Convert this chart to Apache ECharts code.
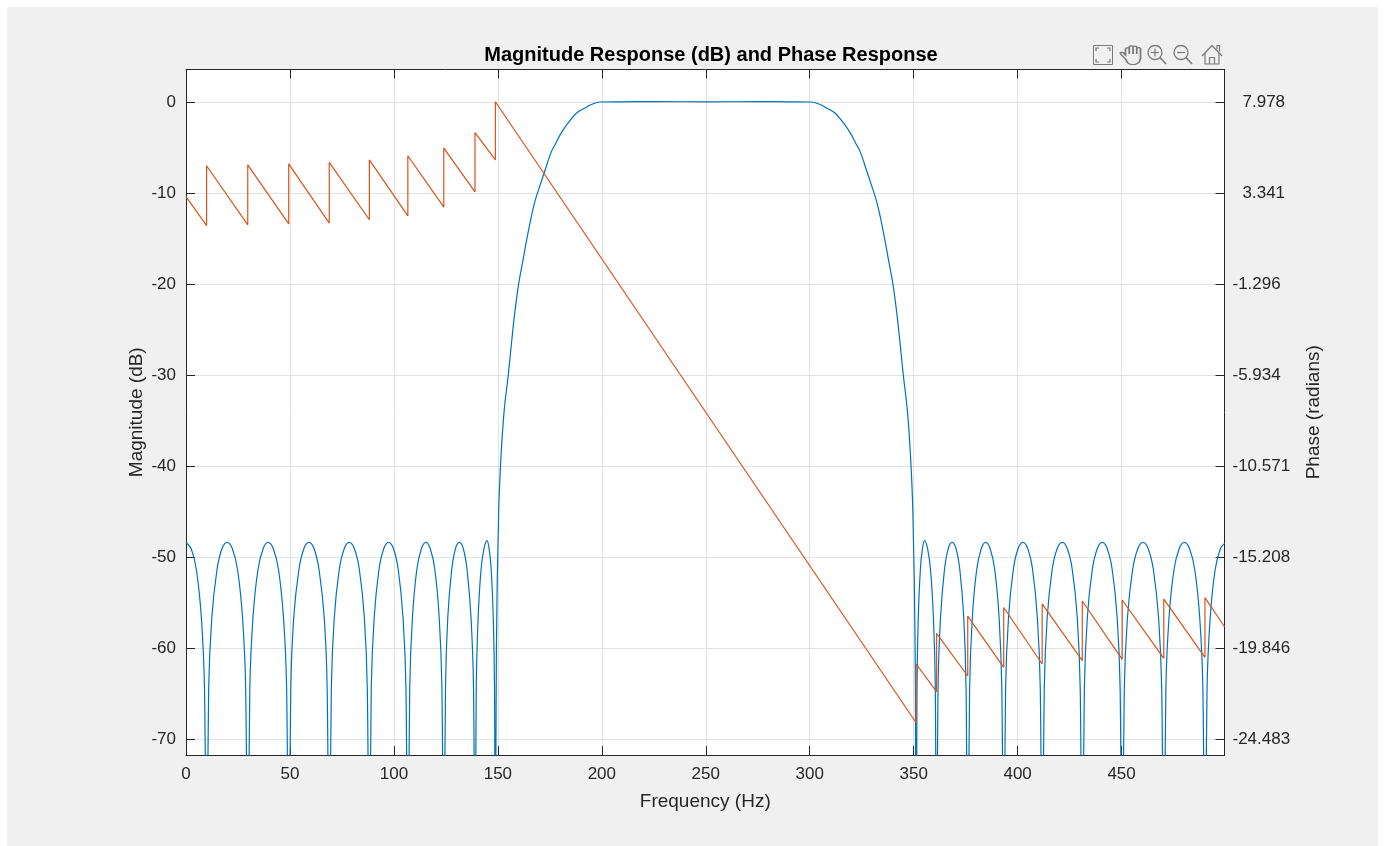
<!DOCTYPE html>
<html>
<head>
<meta charset="utf-8">
<script src="https://cdn.jsdelivr.net/npm/echarts@6/dist/echarts.min.js"></script>
<style>
html,body{margin:0;padding:0;background:#ffffff;}
#bg{position:absolute;left:7px;top:7px;width:1371px;height:839px;background:#f0f0f0;}
#chart{position:absolute;left:0;top:0;width:1385px;height:846px;}
</style>
</head>
<body>
<div id="bg"></div>
<div id="chart"></div>
<script>
// ---------- data ----------
const titleText = 'Magnitude Response (dB) and Phase Response';
const xTicks = [0, 50, 100, 150, 200, 250, 300, 350, 400, 450];
const magTicks = [-70, -60, -50, -40, -30, -20, -10, 0];
const phaseTicks = [-24.483, -19.846, -15.208, -10.571, -5.934, -1.296, 3.341, 7.978];

// Magnitude (dB) vs frequency (Hz)
const magFreq = [
  0, 2.5, 5.0, 7.4, 8.9, 9.9,
  10.9, 12.4, 14.9, 17.3, 19.8, 22.3, 24.8, 27.2, 28.7, 29.7,
  30.7, 32.2, 34.6, 37.1, 39.5, 42.0, 44.5, 46.9, 48.4, 49.4,
  50.4, 51.8, 54.3, 56.7, 59.1, 61.6, 64.0, 66.5, 67.9, 68.9,
  69.9, 71.3, 73.7, 76.1, 78.5, 81.0, 83.4, 85.8, 87.2, 88.2,
  89.1, 90.5, 92.8, 95.1, 97.4, 99.8, 102.1, 104.4, 105.8, 106.7,
  107.6, 108.9, 111.0, 113.2, 115.4, 117.5, 119.7, 121.8, 123.1, 124.0,
  124.8, 125.9, 127.8, 129.6, 131.5, 133.4, 135.2, 137.1, 138.3, 139.0,
  139.6, 140.5, 141.9, 143.3, 144.8, 145.8, 146.8, 147.8, 148.4, 148.8,
  149.3, 150.4, 151.5, 153.0, 155.0, 157.0, 158.5, 160.0, 162.0, 164.0, 166.3, 168.0,
  170.4, 173.0, 175.7, 178.0, 180.0, 183.5, 188.0, 191.7, 195.0, 199.3,
  210, 225, 250, 275, 290,
  300.7, 305.0, 308.3, 312.0, 316.5, 320.0, 322.0, 324.3, 327.0, 329.6, 332.0, 333.7,
  336.0, 338.0, 340.0, 341.5, 343.0, 345.0, 347.0, 348.5, 349.6, 350.7, 351.2,
  351.6, 352.2, 353.2, 354.2, 355.2, 356.7, 358.1, 359.5, 360.4, 361.0,
  361.7, 362.9, 364.8, 366.6, 368.5, 370.4, 372.2, 374.1, 375.2, 376.0,
  376.9, 378.2, 380.3, 382.5, 384.6, 386.8, 389.0, 391.1, 392.4, 393.3,
  394.2, 395.6, 397.9, 400.2, 402.6, 404.9, 407.2, 409.5, 410.9, 411.8,
  412.8, 414.2, 416.6, 419.0, 421.5, 423.9, 426.3, 428.7, 430.1, 431.1,
  432.1, 433.5, 435.9, 438.3, 440.7, 443.1, 445.5, 447.9, 449.3, 450.3,
  451.3, 452.8, 455.3, 457.8, 460.3, 462.8, 465.3, 467.8, 469.3, 470.3,
  471.3, 472.8, 475.2, 477.7, 480.2, 482.7, 485.2, 487.6, 489.1, 490.1,
  491.1, 492.6, 495.0, 497.5, 499.5
];
const magDb = [
  -48.4, -49.1, -51.4, -56.7, -64.5, -90,
  -64.5, -56.7, -51.4, -49.1, -48.4, -49.1, -51.4, -56.7, -64.5, -90,
  -64.5, -56.7, -51.4, -49.1, -48.4, -49.1, -51.4, -56.7, -64.5, -90,
  -64.5, -56.7, -51.4, -49.1, -48.4, -49.1, -51.4, -56.7, -64.5, -90,
  -64.5, -56.7, -51.4, -49.1, -48.4, -49.1, -51.4, -56.7, -64.5, -90,
  -64.5, -56.7, -51.4, -49.1, -48.4, -49.1, -51.4, -56.7, -64.5, -90,
  -64.5, -56.7, -51.4, -49.1, -48.4, -49.1, -51.4, -56.7, -64.5, -90,
  -64.5, -56.7, -51.4, -49.1, -48.4, -49.1, -51.4, -56.7, -64.5, -90,
  -64.5, -56.7, -51.4, -49.1, -48.2, -49.1, -51.4, -56.7, -64.5, -90,
  -60, -45, -39, -34, -30, -25.5, -22.5, -20, -17.5, -15, -12.4, -10.8,
  -9.1, -7.3, -5.5, -4.5, -3.6, -2.4, -1.2, -0.7, -0.3, -0.02,
  0, 0.02, 0, 0.02, 0,
  -0.02, -0.3, -0.7, -1.2, -2.4, -3.6, -4.5, -5.5, -7.3, -9.1, -10.8, -12.4,
  -15, -17.5, -20, -22.5, -25.5, -30, -34, -39, -45, -60, -90,
  -64.5, -56.7, -51.4, -49.1, -48.2, -49.1, -51.4, -56.7, -64.5, -90,
  -64.5, -56.7, -51.4, -49.1, -48.4, -49.1, -51.4, -56.7, -64.5, -90,
  -64.5, -56.7, -51.4, -49.1, -48.4, -49.1, -51.4, -56.7, -64.5, -90,
  -64.5, -56.7, -51.4, -49.1, -48.4, -49.1, -51.4, -56.7, -64.5, -90,
  -64.5, -56.7, -51.4, -49.1, -48.4, -49.1, -51.4, -56.7, -64.5, -90,
  -64.5, -56.7, -51.4, -49.1, -48.4, -49.1, -51.4, -56.7, -64.5, -90,
  -64.5, -56.7, -51.4, -49.1, -48.4, -49.1, -51.4, -56.7, -64.5, -90,
  -64.5, -56.7, -51.4, -49.1, -48.4, -49.1, -51.4, -56.7, -64.5, -90,
  -64.5, -56.7, -51.4, -49.1, -48.5
];

// Phase (radians) vs frequency (Hz): vertices of the wrapped linear-phase sawtooth
const phaseFreq = [
  0, 9.9, 9.9, 29.7, 29.7, 49.4, 49.4, 68.9, 68.9, 88.2, 88.2, 106.7, 106.7,
  124.0, 124.0, 139.0, 139.0, 148.8, 148.8,
  351.2, 351.2, 361.0, 361.0, 376.0, 376.0, 393.3, 393.3, 411.8, 411.8,
  431.1, 431.1, 450.3, 450.3, 470.3, 470.3, 490.1, 490.1, 499.5
];
const phaseRad = [
  3.15, 1.67, 4.72, 1.71, 4.77, 1.76, 4.82, 1.80, 4.89, 1.97, 5.02, 2.17, 5.23,
  2.61, 5.62, 3.39, 6.41, 5.02, 7.98,
  -23.65, -20.66, -22.07, -19.10, -21.27, -18.22, -20.83, -17.78, -20.66, -17.60,
  -20.49, -17.45, -20.42, -17.40, -20.37, -17.35, -20.32, -17.28, -18.76
];

// ---------- chart ----------
const magData = magFreq.map((f, i) => [f, magDb[i]]);
const phaseData = phaseFreq.map((f, i) => [f, phaseRad[i]]);

const AX = '#262626';
const GRIDC = '#e2e2e2';
const ICON = '#7a7a7a';
const FONT = 'Liberation Sans, Arial, Helvetica, sans-serif';
const TICKFS = 17;
const NAMEFS = 19;

const iconLine = {fill: 'none', stroke: ICON, lineWidth: 1.2};
const handPts = [[4,14],[1,9.5],[0.5,8],[1.5,7.3],[2.5,7.8],[4,10],[4,4],[4.5,3],[5.5,2.8],[6.5,3.5],[6.5,9],
  [6.5,1.8],[7.2,0.9],[8.2,0.8],[9,1.6],[9,9],[9,2],[9.7,1.2],[10.7,1.1],[11.5,2],[11.5,9],[11.5,3.5],
  [12.2,2.7],[13.2,2.7],[14,3.5],[14,14],[13,17.5],[10.5,19.5],[7.5,19.5],[5.5,18],[4,14]];

const chart = echarts.init(document.getElementById('chart'), null, {renderer: 'canvas'});
chart.setOption({
  backgroundColor: 'transparent',
  animation: false,
  title: {
    text: titleText,
    left: 706, top: 40, textAlign: 'center',
    textStyle: {fontFamily: FONT, fontSize: 20, fontWeight: 'bold', color: '#000'}
  },
  grid: {
    left: 186, right: 160.5, top: 69.5, bottom: 91,
    show: true, backgroundColor: '#ffffff', borderWidth: 0,
    outerBoundsMode: 'none'
  },
  xAxis: [{
    type: 'value', min: 0, max: 499.5, position: 'bottom',
    name: 'Frequency (Hz)', nameLocation: 'middle', nameGap: 37,
    nameTextStyle: {fontFamily: FONT, fontSize: NAMEFS, color: AX},
    axisLine: {show: true, onZero: false, lineStyle: {color: AX, width: 1}},
    axisTick: {show: true, inside: true, length: 9, customValues: xTicks, lineStyle: {color: AX}},
    axisLabel: {customValues: xTicks, margin: 11, fontFamily: FONT, fontSize: TICKFS, color: AX},
    splitLine: {show: true, lineStyle: {color: GRIDC, width: 1}}
  }, {
    type: 'value', min: 0, max: 499.5, position: 'top',
    axisLine: {show: true, onZero: false, lineStyle: {color: AX, width: 1}},
    axisTick: {show: true, inside: true, length: 9, customValues: xTicks, lineStyle: {color: AX}},
    axisLabel: {show: false},
    splitLine: {show: false}
  }],
  yAxis: [{
    type: 'value', min: -71.75, max: 3.55, position: 'left',
    name: 'Magnitude (dB)', nameLocation: 'middle', nameGap: 40, nameRotate: 90,
    nameMoveOverlap: false,
    nameTextStyle: {fontFamily: FONT, fontSize: NAMEFS, color: AX},
    axisLine: {show: true, onZero: false, lineStyle: {color: AX, width: 1}},
    axisTick: {show: true, inside: true, length: 9, customValues: magTicks, lineStyle: {color: AX}},
    axisLabel: {customValues: magTicks, margin: 10, fontFamily: FONT, fontSize: TICKFS, color: AX},
    splitLine: {show: true, lineStyle: {color: GRIDC, width: 1}}
  }, {
    type: 'value', min: -25.2945, max: 9.6242, position: 'right',
    name: 'Phase (radians)', nameLocation: 'middle', nameGap: 80, nameRotate: 90,
    nameTextStyle: {fontFamily: FONT, fontSize: NAMEFS, color: AX},
    axisLine: {show: true, onZero: false, lineStyle: {color: AX, width: 1}},
    axisTick: {show: true, inside: true, length: 9, customValues: phaseTicks, lineStyle: {color: AX}},
    axisLabel: {customValues: phaseTicks, margin: 8, fontFamily: FONT, fontSize: TICKFS, color: AX,
      formatter: v => (v >= 0 ? '{p|' + v.toFixed(3) + '}' : v.toFixed(3)),
      rich: {p: {padding: [0, 0, 0, 10], fontFamily: FONT, fontSize: TICKFS, color: AX}}},
    splitLine: {show: false}
  }],
  graphic: [
    {type: 'rect', shape: {x: 1093.5, y: 45.5, width: 19, height: 19}, style: {fill: 'none', stroke: ICON, lineWidth: 1}},
    {type: 'polyline', shape: {points: [[1096, 51], [1096, 48], [1099, 48]]}, style: iconLine},
    {type: 'polyline', shape: {points: [[1107, 48], [1110, 48], [1110, 51]]}, style: iconLine},
    {type: 'polyline', shape: {points: [[1096, 59], [1096, 62], [1099, 62]]}, style: iconLine},
    {type: 'polyline', shape: {points: [[1107, 62], [1110, 62], [1110, 59]]}, style: iconLine},
    {type: 'group', x: 1119.5, y: 45, scaleX: 1.5, scaleY: 1.0, children: [
      {type: 'polyline', shape: {points: handPts}, style: {fill: 'none', stroke: ICON, lineWidth: 1.2, strokeNoScale: true}}
    ]},
    {type: 'circle', shape: {cx: 1155, cy: 52.5, r: 7}, style: {fill: 'none', stroke: ICON, lineWidth: 1.3}},
    {type: 'line', shape: {x1: 1160, y1: 57.5, x2: 1166, y2: 64}, style: {stroke: ICON, lineWidth: 1.6}},
    {type: 'line', shape: {x1: 1151, y1: 52.5, x2: 1159, y2: 52.5}, style: {stroke: ICON, lineWidth: 1.2}},
    {type: 'line', shape: {x1: 1155, y1: 48.5, x2: 1155, y2: 56.5}, style: {stroke: ICON, lineWidth: 1.2}},
    {type: 'circle', shape: {cx: 1181, cy: 52.5, r: 7}, style: {fill: 'none', stroke: ICON, lineWidth: 1.3}},
    {type: 'line', shape: {x1: 1186, y1: 57.5, x2: 1192, y2: 64}, style: {stroke: ICON, lineWidth: 1.6}},
    {type: 'line', shape: {x1: 1177, y1: 52.5, x2: 1185, y2: 52.5}, style: {stroke: ICON, lineWidth: 1.2}},
    {type: 'polyline', shape: {points: [[1202, 56], [1212, 45.5], [1222, 56]]}, style: {fill: 'none', stroke: ICON, lineWidth: 1.3}},
    {type: 'polyline', shape: {points: [[1205, 53], [1205, 64], [1219, 64], [1219, 53]]}, style: iconLine},
    {type: 'polyline', shape: {points: [[1209.5, 64], [1209.5, 57.5], [1214.5, 57.5], [1214.5, 64]]}, style: iconLine},
    {type: 'polyline', shape: {points: [[1217, 49], [1217, 45.5], [1219.5, 45.5], [1219.5, 51.5]]}, style: iconLine}
  ],
  series: [{
    name: 'Magnitude', type: 'line', xAxisIndex: 0, yAxisIndex: 0,
    data: magData, showSymbol: false, clip: true, smooth: 0.35,
    lineStyle: {color: '#0072BD', width: 1.2}, z: 3
  }, {
    name: 'Phase', type: 'line', xAxisIndex: 0, yAxisIndex: 1,
    data: phaseData, showSymbol: false, clip: true,
    lineStyle: {color: '#D95319', width: 1.2}, z: 4
  }]
});
</script>
</body>
</html>
